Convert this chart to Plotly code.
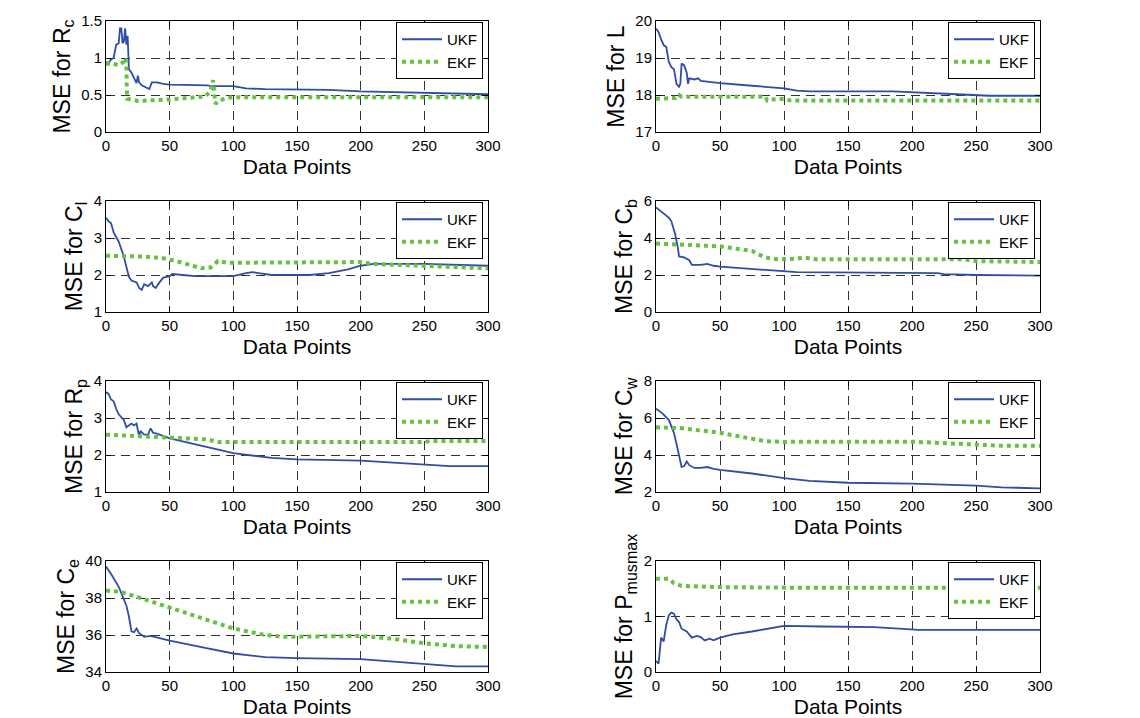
import plotly.graph_objects as go

# ---------------- data ----------------
titles = ["MSE for R<sub>c</sub>", "MSE for L", "MSE for C<sub>l</sub>", "MSE for C<sub>b</sub>",
          "MSE for R<sub>p</sub>", "MSE for C<sub>w</sub>", "MSE for C<sub>e</sub>", "MSE for P<sub>musmax</sub>"]
y_ranges = [[0, 1.5], [17, 20], [1, 4], [0, 6], [1, 4], [2, 8], [34, 40], [0, 2]]
y_dticks = [0.5, 1, 1, 2, 1, 2, 2, 1]
x_ticks = [0, 50, 100, 150, 200, 250, 300]

# 1: R_c
rc_ukf_x = [0, 2, 4, 6, 8, 10, 11, 12, 13, 14, 15, 16, 17, 18, 20, 22, 24, 25, 26, 28, 32, 34, 36, 40, 45, 50, 80, 82, 100, 110, 125, 175, 200, 260, 300]
rc_ukf_y = [0.95, 0.93, 0.98, 1.0, 1.18, 1.2, 1.4, 1.4, 1.2, 1.22, 1.4, 1.18, 1.3, 0.85, 0.8, 0.72, 0.66, 0.76, 0.67, 0.63, 0.6, 0.58, 0.67, 0.67, 0.65, 0.64, 0.63, 0.62, 0.62, 0.59, 0.58, 0.57, 0.55, 0.52, 0.51]
rc_ekf_x = [0, 5, 10, 14, 15, 16, 16.5, 20, 25, 50, 70, 78, 82, 84, 85, 86, 88, 95, 100, 300]
rc_ekf_y = [0.92, 0.93, 0.9, 0.95, 1.0, 0.9, 0.45, 0.44, 0.42, 0.44, 0.46, 0.48, 0.55, 0.7, 0.52, 0.38, 0.42, 0.46, 0.47, 0.47]

# 2: L
l_ukf_x = [0, 2, 4, 6, 8, 10, 12, 14, 16, 18, 19, 20, 22, 24, 25, 26, 30, 33, 35, 50, 75, 100, 110, 120, 185, 200, 215, 235, 260, 300]
l_ukf_y = [19.8, 19.7, 19.5, 19.35, 19.3, 18.9, 18.75, 18.7, 18.3, 18.22, 18.3, 18.85, 18.8, 18.6, 18.3, 18.45, 18.42, 18.45, 18.38, 18.32, 18.25, 18.18, 18.12, 18.1, 18.1, 18.07, 18.05, 18.02, 17.98, 17.98]
l_ekf_x = [0, 15, 18, 20, 80, 85, 87, 90, 100, 105, 300]
l_ekf_y = [17.9, 17.92, 18.0, 17.95, 17.95, 17.97, 17.85, 17.88, 17.9, 17.85, 17.85]

# 3: C_l
cl_ukf_x = [0, 2, 4, 6, 10, 14, 18, 20, 24, 26, 28, 30, 33, 36, 37, 39, 42, 45, 50, 52, 60, 70, 90, 100, 110, 115, 120, 130, 160, 175, 190, 200, 210, 250, 300]
cl_ukf_y = [3.55, 3.45, 3.4, 3.15, 2.9, 2.5, 1.95, 1.85, 1.8, 1.65, 1.6, 1.75, 1.7, 1.8, 1.7, 1.65, 1.8, 1.93, 1.97, 2.03, 2.0, 1.97, 1.97, 1.97, 2.05, 2.08, 2.05, 2.0, 2.0, 2.05, 2.15, 2.25, 2.3, 2.3, 2.25]
cl_ekf_x = [0, 30, 45, 55, 65, 75, 82, 88, 95, 200, 210, 250, 300]
cl_ekf_y = [2.52, 2.5, 2.45, 2.38, 2.28, 2.18, 2.2, 2.38, 2.33, 2.35, 2.3, 2.25, 2.18]

# 4: C_b
cb_ukf_x = [0, 5, 10, 12, 15, 17, 18, 22, 26, 28, 35, 40, 45, 50, 60, 80, 100, 110, 220, 225, 250, 300]
cb_ukf_y = [5.65, 5.4, 5.1, 4.9, 4.2, 3.5, 3.0, 2.95, 2.8, 2.55, 2.55, 2.6, 2.5, 2.45, 2.4, 2.3, 2.2, 2.15, 2.1, 2.05, 2.0, 1.97]
cb_ekf_x = [0, 50, 60, 75, 85, 95, 110, 115, 125, 240, 250, 270, 275, 300]
cb_ekf_y = [3.7, 3.55, 3.45, 3.3, 2.95, 2.85, 2.88, 2.95, 2.85, 2.85, 2.75, 2.75, 2.7, 2.7]

# 5: R_p
rp_ukf_x = [0, 2, 4, 6, 8, 10, 14, 16, 20, 22, 24, 26, 27, 30, 33, 35, 37, 40, 50, 75, 100, 130, 150, 200, 250, 270, 300]
rp_ukf_y = [3.7, 3.65, 3.5, 3.45, 3.25, 3.1, 2.95, 2.75, 2.85, 2.8, 2.85, 2.5, 2.65, 2.55, 2.55, 2.72, 2.6, 2.58, 2.45, 2.25, 2.05, 1.92, 1.88, 1.85, 1.75, 1.7, 1.7]
rp_ekf_x = [0, 20, 50, 80, 88, 250, 255, 300]
rp_ekf_y = [2.55, 2.52, 2.48, 2.42, 2.35, 2.35, 2.38, 2.38]

# 6: C_w
cw_ukf_x = [0, 5, 10, 14, 16, 18, 20, 22, 24, 26, 30, 35, 40, 45, 50, 75, 100, 120, 150, 200, 250, 270, 300]
cw_ukf_y = [6.5, 6.25, 5.9, 5.2, 4.6, 3.9, 3.35, 3.4, 3.65, 3.45, 3.3, 3.3, 3.35, 3.25, 3.2, 3.0, 2.75, 2.6, 2.5, 2.45, 2.35, 2.25, 2.2]
cw_ekf_x = [0, 20, 50, 70, 85, 100, 110, 200, 250, 270, 300]
cw_ekf_y = [5.5, 5.45, 5.2, 4.95, 4.75, 4.7, 4.72, 4.72, 4.55, 4.5, 4.5]

# 7: C_e
ce_ukf_x = [0, 4, 10, 16, 18, 20, 22, 24, 26, 30, 35, 50, 75, 100, 125, 150, 200, 250, 275, 300]
ce_ukf_y = [39.7, 39.3, 38.6, 37.6, 37.0, 36.2, 36.15, 36.35, 36.1, 35.9, 35.95, 35.7, 35.35, 35.0, 34.8, 34.75, 34.7, 34.45, 34.3, 34.3]
ce_ekf_x = [0, 10, 25, 50, 75, 100, 125, 140, 200, 225, 250, 275, 300]
ce_ekf_y = [38.4, 38.35, 38.05, 37.5, 36.9, 36.35, 36.0, 35.9, 35.95, 35.8, 35.55, 35.4, 35.35]

# 8: P_musmax
pm_ukf_x = [0, 2, 4, 6, 8, 10, 12, 14, 16, 18, 20, 24, 28, 32, 35, 38, 42, 45, 50, 60, 75, 100, 130, 170, 190, 205, 300]
pm_ukf_y = [0.2, 0.15, 0.62, 0.55, 0.85, 1.02, 1.07, 1.05, 0.95, 0.9, 0.78, 0.73, 0.62, 0.65, 0.63, 0.57, 0.6, 0.57, 0.62, 0.68, 0.73, 0.83, 0.82, 0.81, 0.78, 0.76, 0.76]
pm_ekf_x = [0, 10, 14, 20, 50, 100, 300]
pm_ekf_y = [1.68, 1.68, 1.6, 1.55, 1.53, 1.52, 1.52]

series = [
    (rc_ukf_x, rc_ukf_y, rc_ekf_x, rc_ekf_y),
    (l_ukf_x, l_ukf_y, l_ekf_x, l_ekf_y),
    (cl_ukf_x, cl_ukf_y, cl_ekf_x, cl_ekf_y),
    (cb_ukf_x, cb_ukf_y, cb_ekf_x, cb_ekf_y),
    (rp_ukf_x, rp_ukf_y, rp_ekf_x, rp_ekf_y),
    (cw_ukf_x, cw_ukf_y, cw_ekf_x, cw_ekf_y),
    (ce_ukf_x, ce_ukf_y, ce_ekf_x, ce_ekf_y),
    (pm_ukf_x, pm_ukf_y, pm_ekf_x, pm_ekf_y),
]

# ---------------- layout geometry (pixels) ----------------
W, H = 1140, 718
col_px = [(106, 488), (656, 1040)]
row_px = [(21, 132), (201, 312), (381, 492), (561, 672)]

UKF_COLOR = "#2E4DA7"
EKF_COLOR = "#64C240"
FONT = "Liberation Sans, Arial, sans-serif"

fig = go.Figure()
layout = dict(width=W, height=H, margin=dict(l=0, r=0, t=0, b=0),
              paper_bgcolor="white", plot_bgcolor="white",
              font=dict(family=FONT, color="black"), showlegend=True)

for i in range(8):
    r, c = divmod(i, 2)
    n = i + 1
    xa = "x" if n == 1 else f"x{n}"
    ya = "y" if n == 1 else f"y{n}"
    lg = "legend" if n == 1 else f"legend{n}"
    ux, uy, ex, ey = series[i]
    fig.add_trace(go.Scatter(x=ux, y=uy, mode="lines", name="UKF", xaxis=xa, yaxis=ya,
                             legend=lg, line=dict(color=UKF_COLOR, width=1.8)))
    fig.add_trace(go.Scatter(x=ex, y=ey, mode="lines", name="EKF", xaxis=xa, yaxis=ya,
                             legend=lg, line=dict(color=EKF_COLOR, width=4, dash="dot")))
    x0, x1 = col_px[c]
    y0, y1 = row_px[r]
    common = dict(showline=True, linecolor="black", linewidth=1, mirror="ticks",
                  ticks="inside", ticklen=5, tickcolor="black",
                  tickfont=dict(size=15, family=FONT, color="black"),
                  showgrid=True, gridcolor="#333333", gridwidth=1, griddash="9px,6px",
                  zeroline=False, automargin=False)
    layout["xaxis" if n == 1 else f"xaxis{n}"] = dict(
        common, domain=[x0 / W, x1 / W], range=[0, 300], tickvals=x_ticks,
        anchor=ya,
        title=dict(text="Data Points", font=dict(size=21, family=FONT), standoff=6))
    layout["yaxis" if n == 1 else f"yaxis{n}"] = dict(
        common, domain=[1 - y1 / H, 1 - y0 / H], range=y_ranges[i], dtick=y_dticks[i],
        anchor=xa,
        title=dict(text=titles[i], font=dict(size=23, family=FONT), standoff=4))
    layout[lg] = dict(x=(x1 - 5) / W, y=1 - (y0 + 1) / H, xanchor="right", yanchor="top",
                      bgcolor="white", bordercolor="black", borderwidth=1,
                      font=dict(size=15, family=FONT, color="black"),
                      itemwidth=40, tracegroupgap=0)

fig.update_layout(**layout)
fig.write_html("out.html")
